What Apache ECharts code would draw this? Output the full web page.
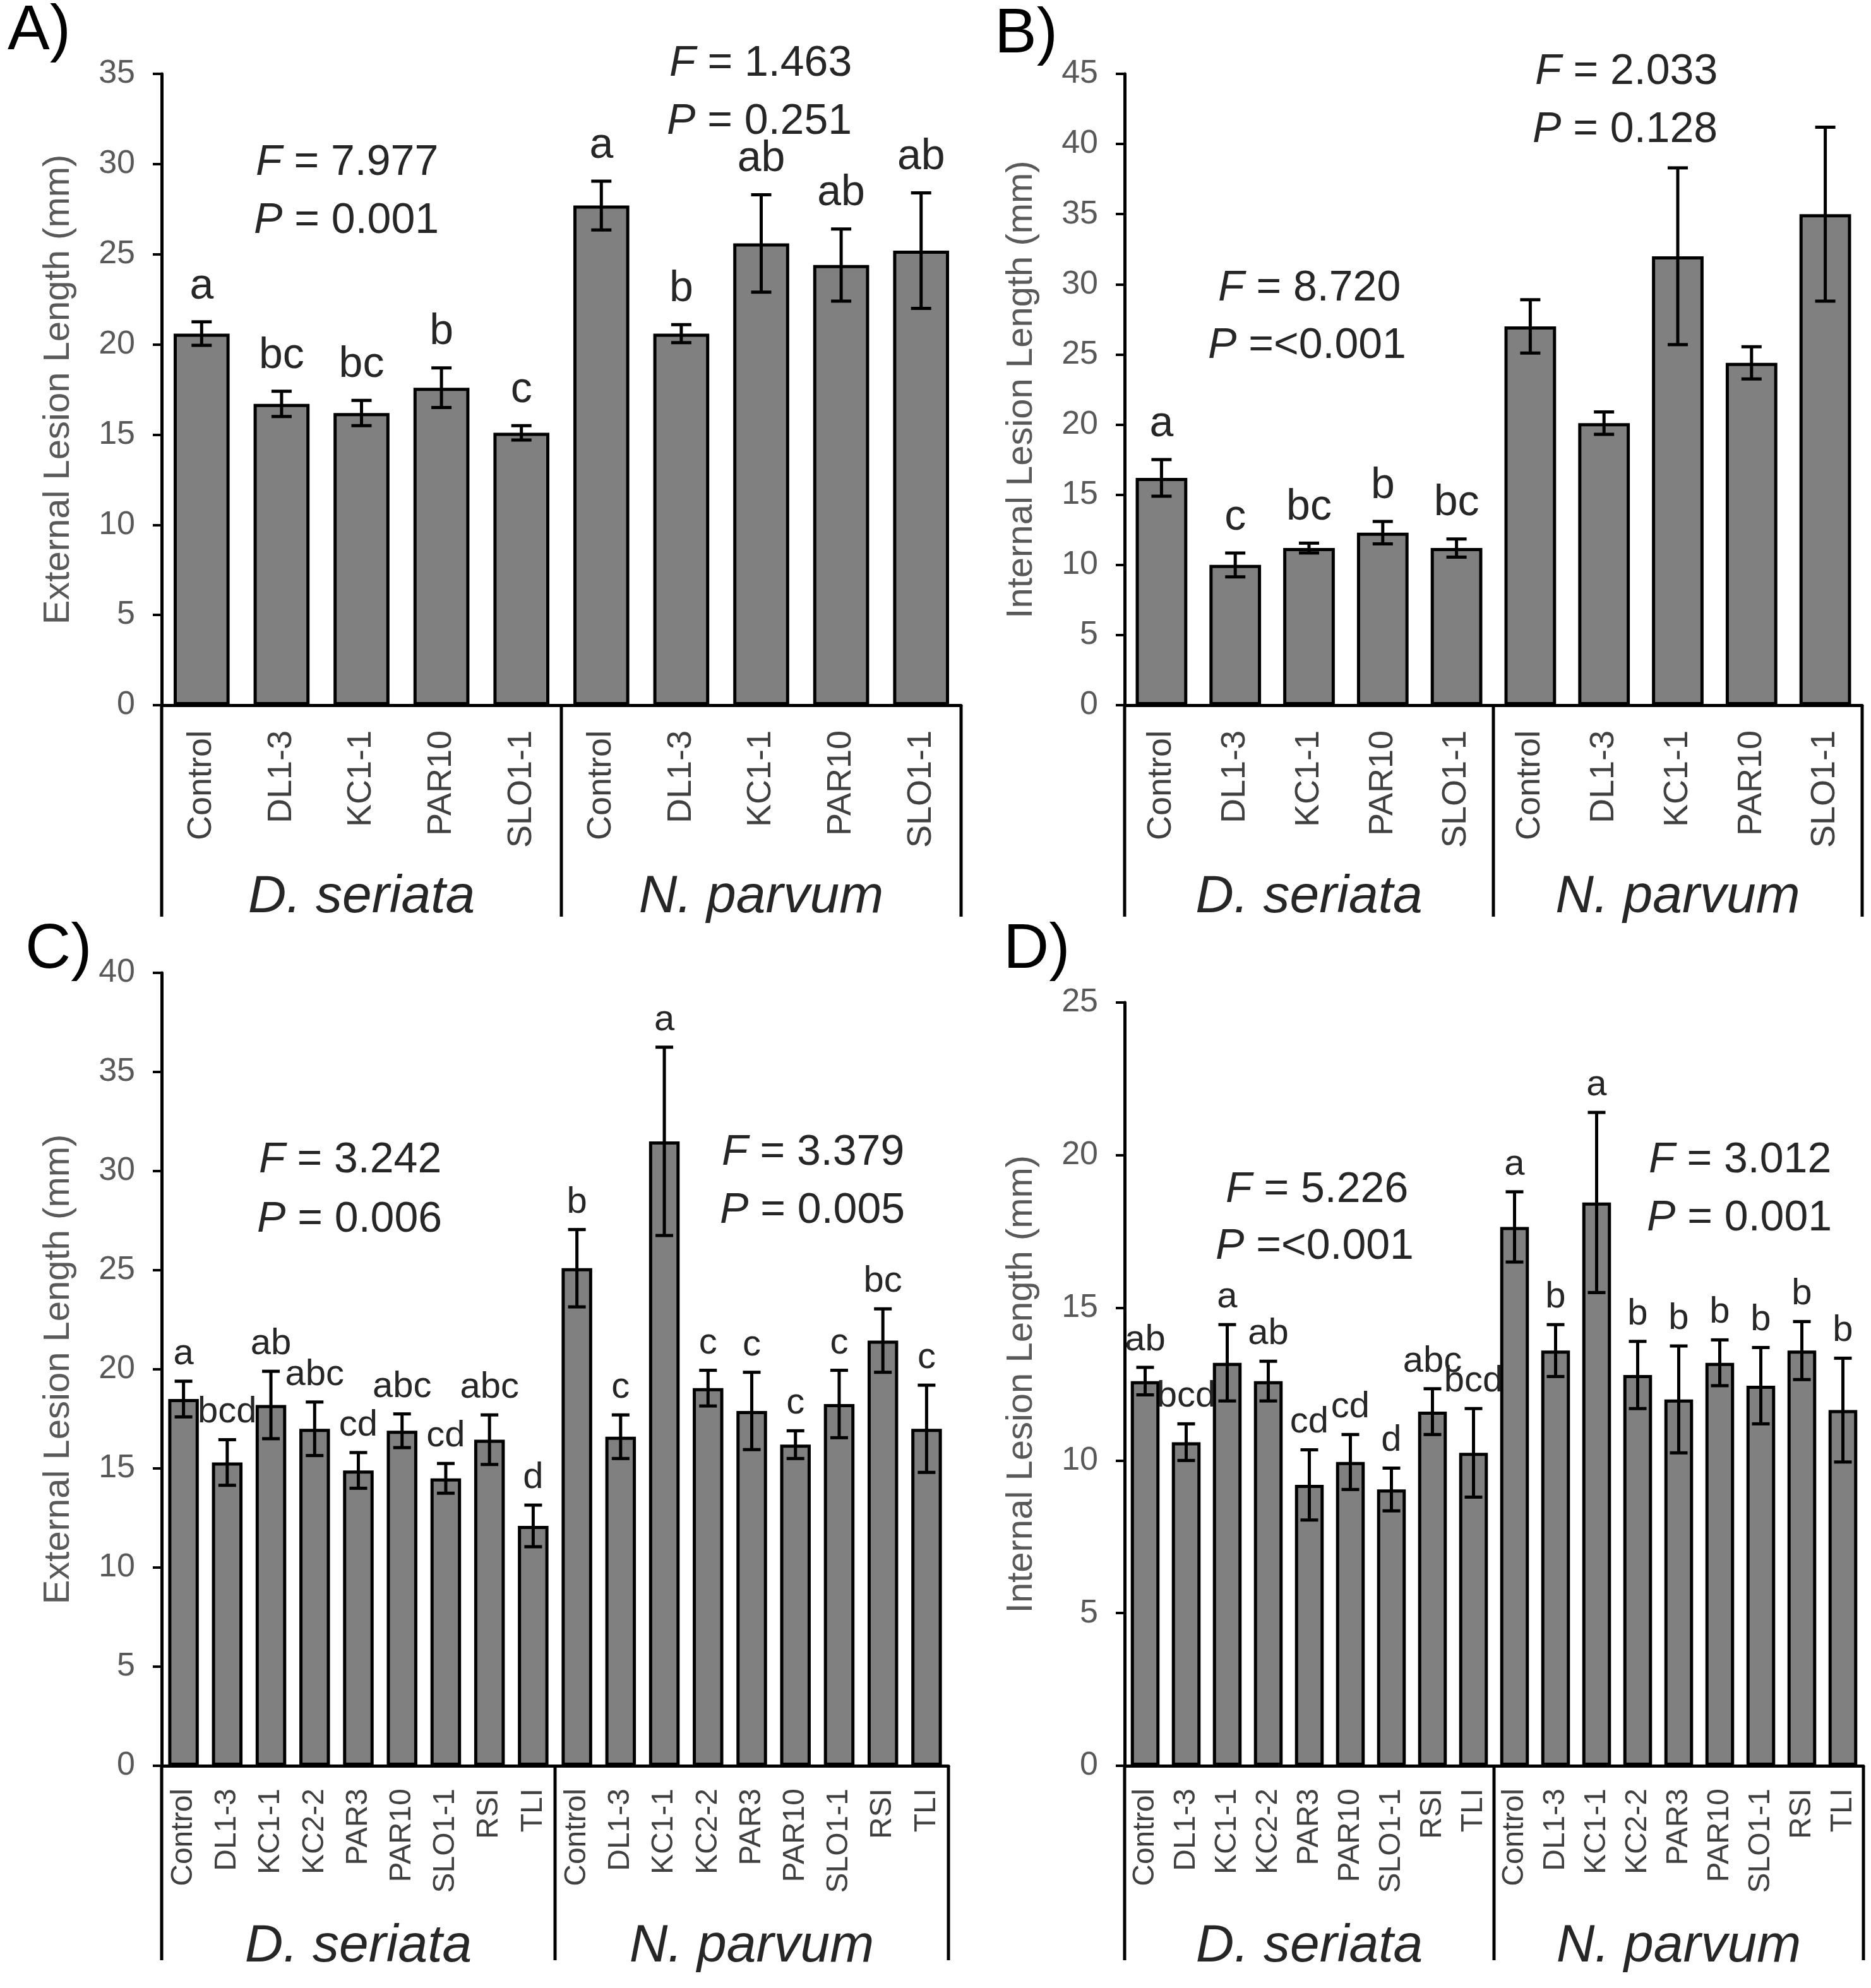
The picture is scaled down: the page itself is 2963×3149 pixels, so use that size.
<!DOCTYPE html>
<html>
<head>
<meta charset="utf-8">
<title>Lesion length</title>
<script src="https://cdn.jsdelivr.net/npm/echarts@6/dist/echarts.min.js"></script>
<style>
  html, body { margin: 0; padding: 0; background: #fff; }
  #main { width: 2963px; height: 3149px; }
</style>
</head>
<body>
<div id="main"></div>
<script>
// ---- data ----
var groupNames = ['D. seriata', 'N. parvum'];
var isolatesAB = ['Control', 'DL1-3', 'KC1-1', 'PAR10', 'SLO1-1'];
var isolatesCD = ['Control', 'DL1-3', 'KC1-1', 'KC2-2', 'PAR3', 'PAR10', 'SLO1-1', 'RSI', 'TLI'];

// A) external lesion length
var extLenA = [20.6, 16.7, 16.2, 17.6, 15.1, 27.7, 20.6, 25.6, 24.4, 25.2];
var extErrA = [0.65, 0.7, 0.7, 1.1, 0.4, 1.35, 0.5, 2.7, 2.0, 3.2];
var extLetA = ['a', 'bc', 'bc', 'b', 'c', 'a', 'b', 'ab', 'ab', 'ab'];
var statsA = [['7.977', ' 0.001'], ['1.463', ' 0.251']];

// B) internal lesion length
var intLenB = [16.2, 10.0, 11.2, 12.3, 11.2, 27.0, 20.1, 32.0, 24.4, 35.0];
var intErrB = [1.3, 0.85, 0.35, 0.8, 0.65, 1.9, 0.8, 6.3, 1.15, 6.2];
var intLetB = ['a', 'c', 'bc', 'b', 'bc', '', '', '', '', ''];
var statsB = [['8.720', '<0.001'], ['2.033', ' 0.128']];

// C) external lesion length
var extLenC = [18.5, 15.3, 18.2, 17.0, 14.9, 16.9, 14.5, 16.45, 12.1,
               25.1, 16.6, 31.5, 19.05, 17.9, 16.2, 18.25, 21.45, 17.0];
var extErrC = [0.9, 1.15, 1.7, 1.35, 0.9, 0.85, 0.75, 1.25, 1.05,
               1.95, 1.1, 4.75, 0.9, 1.95, 0.7, 1.7, 1.6, 2.2];
var extLetC = ['a', 'bcd', 'ab', 'abc', 'cd', 'abc', 'cd', 'abc', 'd',
               'b', 'c', 'a', 'c', 'c', 'c', 'c', 'bc', 'c'];
var statsC = [['3.242', ' 0.006'], ['3.379', ' 0.005']];

// D) internal lesion length
var intLenD = [12.6, 10.6, 13.2, 12.6, 9.2, 9.95, 9.05, 11.6, 10.25,
               17.65, 13.6, 18.45, 12.8, 12.0, 13.2, 12.45, 13.6, 11.65];
var intErrD = [0.45, 0.6, 1.25, 0.65, 1.15, 0.9, 0.7, 0.75, 1.45,
               1.15, 0.85, 2.95, 1.1, 1.75, 0.75, 1.25, 0.95, 1.7];
var intLetD = ['ab', 'bcd', 'a', 'ab', 'cd', 'cd', 'd', 'abc', 'bcd',
               'a', 'b', 'a', 'b', 'b', 'b', 'b', 'b', 'b'];
var statsD = [['5.226', '<0.001'], ['3.012', ' 0.001']];

// ---- layout ----
var FONT = '"Liberation Sans", Arial, sans-serif';

var panels = [
  { tag: 'A)', tagPos: [12, 50], cats: isolatesAB, vals: extLenA, errs: extErrA, lets: extLetA, stats: statsA,
    yName: 'External Lesion Length (mm)', max: 35, box: [256, 1522, 117, 1117], groupBottom: 1452, namesY: 1422,
    statPos: [[405, 258, 402, 350], [1060, 101, 1056, 193]],
    catFont: 54, catMargin: 40, letFont: 68, letGap: 22, cap: 16 },
  { tag: 'B)', tagPos: [1575, 55], cats: isolatesAB, vals: intLenB, errs: intErrB, lets: intLetB, stats: statsB,
    yName: 'Internal Lesion Length (mm)', max: 45, box: [1781, 2949, 117, 1117], groupBottom: 1452, namesY: 1422,
    statPos: [[1929, 457, 1913, 548], [2431, 114, 2427, 206]],
    catFont: 54, catMargin: 40, letFont: 68, letGap: 22, cap: 16 },
  { tag: 'C)', tagPos: [40, 1505], cats: isolatesCD, vals: extLenC, errs: extErrC, lets: extLetC, stats: statsC,
    yName: 'External Lesion Length (mm)', max: 40, box: [256, 1502, 1541, 2797], groupBottom: 3105, namesY: 3084,
    statPos: [[410, 1838, 407, 1932], [1143, 1826, 1140, 1918]],
    catFont: 48, catMargin: 36, letFont: 58, letGap: 14, cap: 14 },
  { tag: 'D)', tagPos: [1589, 1505], cats: isolatesCD, vals: intLenD, errs: intErrD, lets: intLetD, stats: statsD,
    yName: 'Internal Lesion Length (mm)', max: 25, box: [1781, 2951, 1588, 2797], groupBottom: 3105, namesY: 3084,
    statPos: [[1941, 1885, 1925, 1975], [2611, 1838, 2608, 1930]],
    catFont: 48, catMargin: 36, letFont: 58, letGap: 14, cap: 14 }
];

// error bars + significance letters
function errorRenderer(p) {
  return function (params, api) {
    var i = api.value(0), v = api.value(1), e = api.value(2);
    var hi = api.coord([i, v + e]);
    var lo = api.coord([i, v - e]);
    var x = hi[0];
    function st() { return { stroke: '#000', lineWidth: 5 }; }
    var kids = [
      { type: 'line', shape: { x1: x, y1: hi[1], x2: x, y2: lo[1] }, style: st() },
      { type: 'line', shape: { x1: x - p.cap, y1: hi[1], x2: x + p.cap, y2: hi[1] }, style: st() },
      { type: 'line', shape: { x1: x - p.cap, y1: lo[1], x2: x + p.cap, y2: lo[1] }, style: st() }
    ];
    var letter = p.lets[params.dataIndex];
    if (letter) {
      kids.push({ type: 'text', x: x, y: hi[1] - p.letGap,
        style: { text: letter, fontSize: p.letFont, fontFamily: FONT, fill: '#262626',
                 align: 'center', verticalAlign: 'bottom' } });
    }
    return { type: 'group', children: kids };
  };
}

var myChart = echarts.init(document.getElementById('main'), null, { renderer: 'canvas' });
var option = {
  animation: false,
  backgroundColor: '#fff',
  textStyle: { fontFamily: FONT },
  grid: [], xAxis: [], yAxis: [], series: [], graphic: []
};

panels.forEach(function (p, k) {
  var left = p.box[0], right = p.box[1], top = p.box[2], zero = p.box[3];
  var mid = (left + right) / 2;

  option.grid.push({ left: left, top: top, width: right - left, height: zero - top,
                     containLabel: false, outerBoundsMode: 'none' });

  var keys = [];
  groupNames.forEach(function (g) {
    p.cats.forEach(function (c) { keys.push(g + '|' + c); });
  });

  option.xAxis.push({
    type: 'category', gridIndex: k, data: keys,
    axisLine: { show: true, lineStyle: { color: '#000', width: 5 } },
    axisTick: { show: false },
    splitLine: { show: false },
    axisLabel: {
      interval: 0, rotate: 90, margin: p.catMargin, fontSize: p.catFont,
      color: '#404040', fontFamily: FONT,
      formatter: function (v) { return v.split('|')[1]; }
    }
  });

  option.yAxis.push({
    type: 'value', gridIndex: k, min: 0, max: p.max, interval: 5,
    name: p.yName, nameLocation: 'middle', nameGap: 134, nameMoveOverlap: false,
    nameTextStyle: { fontSize: 58, color: '#595959', fontFamily: FONT },
    axisLine: { show: true, lineStyle: { color: '#000', width: 5 } },
    axisTick: { show: true, length: 14, lineStyle: { color: '#000', width: 4 } },
    axisLabel: { fontSize: 52, color: '#595959', margin: 42, fontFamily: FONT },
    splitLine: { show: false }
  });

  option.series.push({
    type: 'bar', xAxisIndex: k, yAxisIndex: k, data: p.vals, barWidth: '70%',
    itemStyle: { color: '#808080', borderColor: '#000', borderWidth: 5 },
    silent: true, z: 2
  });

  option.series.push({
    type: 'custom', xAxisIndex: k, yAxisIndex: k, z: 5, silent: true,
    data: p.vals.map(function (v, i) { return [i, v, p.errs[i]]; }),
    renderItem: errorRenderer(p)
  });

  // group separators below the category axis
  [left, mid, right].forEach(function (x) {
    option.graphic.push({ type: 'line', silent: true,
      shape: { x1: x, y1: zero, x2: x, y2: p.groupBottom },
      style: { stroke: '#000', lineWidth: 5 } });
  });

  // group names
  groupNames.forEach(function (g, j) {
    var cx = j === 0 ? (left + mid) / 2 : (mid + right) / 2;
    option.graphic.push({ type: 'text', silent: true, x: cx, y: p.namesY,
      style: { text: g, fontSize: 84, fontStyle: 'italic', fontFamily: FONT, fill: '#262626',
               align: 'center', verticalAlign: 'middle' } });
  });

  // ANOVA stats
  p.stats.forEach(function (s, j) {
    var pos = p.statPos[j];
    var rich = { i: { fontStyle: 'italic', fontSize: 68, fontFamily: FONT, fill: '#262626' },
                 n: { fontSize: 68, fontFamily: FONT, fill: '#262626' } };
    option.graphic.push({ type: 'text', silent: true, x: pos[0], y: pos[1],
      style: { text: '{i|F}{n| = ' + s[0] + '}', rich: rich, align: 'left', verticalAlign: 'middle' } });
    option.graphic.push({ type: 'text', silent: true, x: pos[2], y: pos[3],
      style: { text: '{i|P}{n| =' + s[1] + '}', rich: rich, align: 'left', verticalAlign: 'middle' } });
  });

  // panel tag
  option.graphic.push({ type: 'text', silent: true, x: p.tagPos[0], y: p.tagPos[1],
    style: { text: p.tag, fontSize: 100, fontFamily: FONT, fill: '#000',
             align: 'left', verticalAlign: 'middle' } });
});

myChart.setOption(option);
window.addEventListener('resize', function () {
  myChart.resize();
});
</script>
</body>
</html>
